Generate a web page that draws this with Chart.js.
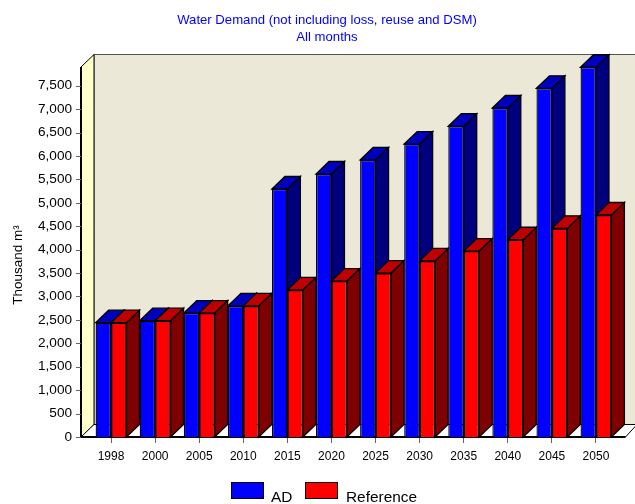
<!DOCTYPE html>
<html><head><meta charset="utf-8">
<style>html,body{margin:0;padding:0;background:#fff}canvas{display:block}</style>
<script src="https://cdn.jsdelivr.net/npm/chart.js@4"></script>
</head><body><canvas id="c" width="635" height="504"></canvas>
<script>
const categories = ["1998","2000","2005","2010","2015","2020","2025","2030","2035","2040","2045","2050"];
const adValues = [2440,2483,2647,2800,5295,5615,5915,6255,6635,7025,7445,7895];
const referenceValues = [2440,2483,2647,2800,3140,3330,3500,3760,3970,4212,4455,4740];
const yTickValues = [0,500,1000,1500,2000,2500,3000,3500,4000,4500,5000,5500,6000,6500,7000,7500];
const yMax = 7900;
const titleLines = ["Water Demand (not including loss, reuse and DSM)","All months"];
const yAxisTitle = "Thousand m³";
const F = "'Liberation Sans', Arial, sans-serif";
const DX = 13, DY = 12.5, AXIS_GAP = 8;

const depthColours = [
  {top:"#0000bf", side:"#00007f"},
  {top:"#bf0000", side:"#7f0000"}
];
function poly(ctx, pts, fill, stroke, lw){
  ctx.beginPath();
  pts.forEach((p,i)=> i?ctx.lineTo(p[0],p[1]):ctx.moveTo(p[0],p[1]));
  ctx.closePath();
  if(fill){ctx.fillStyle=fill;ctx.fill();}
  if(stroke){ctx.strokeStyle=stroke;ctx.lineWidth=lw||1;ctx.stroke();}
}
const frame3d = {
  id:"frame3d",
  beforeDatasetsDraw(chart){
    const {ctx,chartArea:a,scales:{y}} = chart;
    const L=a.left-AXIS_GAP, B=a.bottom, T=a.top, R=chart.width;
    const FR=R-9.5;
    ctx.save();
    poly(ctx,[[L+DX,T-DY],[R+2,T-DY],[R+2,B-DY],[L+DX,B-DY]],"#ebe8d8","#555",1);
    poly(ctx,[[L,T],[L+DX,T-DY],[L+DX,B-DY],[L,B]],"#ffffcc","#000",1);
    poly(ctx,[[L,B],[L+DX,B-DY],[R+2,B-DY],[FR,B]],"#ffffff","#000",1);
    ctx.strokeStyle="#000";ctx.lineWidth=2;
    ctx.beginPath();ctx.moveTo(L,T);ctx.lineTo(L,B);ctx.lineTo(FR,B);ctx.stroke();
    ctx.strokeStyle="#666";ctx.lineWidth=1;
    y.ticks.forEach((t,i)=>{
      const p=Math.round(y.getPixelForTick(i))+0.5;
      ctx.beginPath();ctx.moveTo(L-5,p);ctx.lineTo(L,p);ctx.stroke();
    });
    [0,1].forEach(d=>{
      chart.getDatasetMeta(d).data.forEach(bar=>{
        const l=bar.x-bar.width/2,r=bar.x+bar.width/2,t=bar.y,b=bar.base;
        poly(ctx,[[r,t],[r+DX,t-DY],[r+DX,b-DY],[r,b]],depthColours[d].side,"#000",1.3);
        poly(ctx,[[l,t],[l+DX,t-DY],[r+DX,t-DY],[r,t]],depthColours[d].top,"#000",1.3);
      });
    });
    ctx.restore();
  },
  afterDraw(chart){
    const ctx=chart.ctx;
    ctx.save();
    ctx.fillStyle="#000";ctx.font="13.5px "+F;ctx.textAlign="center";ctx.textBaseline="middle";
    ctx.translate(18,265);ctx.rotate(-Math.PI/2);ctx.fillText(yAxisTitle,0,0);
    ctx.restore();
    ctx.save();
    ctx.font="15.4px "+F;ctx.textBaseline="alphabetic";ctx.textAlign="left";
    const swatchX=[231.5,305.5], textX=[271,346];
    chart.data.datasets.forEach((ds,i)=>{
      ctx.fillStyle=ds.backgroundColor;ctx.strokeStyle="#000";ctx.lineWidth=1;
      ctx.fillRect(swatchX[i],482.5,32,16);ctx.strokeRect(swatchX[i],482.5,32,16);
      ctx.fillStyle="#000";ctx.fillText(ds.label,textX[i],502);
    });
    ctx.restore();
  }
};
new Chart(document.getElementById("c"),{
  type:"bar",
  data:{labels:categories,datasets:[
    {label:"AD",data:adValues,backgroundColor:"#0000ff",borderColor:"#000",borderWidth:1.3,categoryPercentage:0.7,barPercentage:1},
    {label:"Reference",data:referenceValues,backgroundColor:"#ff0000",borderColor:"#000",borderWidth:1.3,categoryPercentage:0.7,barPercentage:1}
  ]},
  plugins:[frame3d],
  options:{
    responsive:false,animation:false,
    layout:{padding:{top:0,right:0,left:19,bottom:0}},
    plugins:{
      tooltip:{enabled:false},
      title:{display:true,text:titleLines,color:"#0000ff",font:{family:F,size:13.15,weight:"normal",lineHeight:17/13.15},padding:{top:12,bottom:21}},
      legend:{display:false}
    },
    scales:{
      x:{
        grid:{display:true,offset:false,drawOnChartArea:false,drawTicks:true,tickLength:6,color:"#666"},
        border:{display:false},
        ticks:{color:"#000",font:{family:F,size:12},padding:6,maxRotation:0,autoSkip:false},
        afterFit(s){s.height=67;}
      },
      y:{
        min:0,max:yMax,
        grid:{display:false,drawTicks:false},
        border:{display:false},
        afterBuildTicks(s){s.ticks=yTickValues.map(value=>({value}));},
        ticks:{color:"#000",font:{family:F,size:13.6},padding:17,autoSkip:false,
          callback:v=>v.toLocaleString("en-US")},
        afterFit(s){s.width=70;}
      },
      margin:{
        position:"right",min:0,max:1,
        grid:{display:false,drawTicks:false},border:{display:false},
        ticks:{display:false},
        afterFit(s){s.width=17;}
      }
    }
  }
});
</script></body></html>
